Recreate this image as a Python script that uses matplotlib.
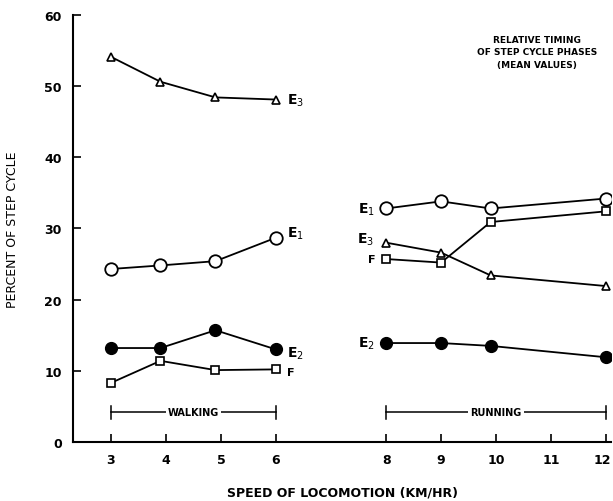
import numpy as np
import matplotlib.pyplot as plt
import matplotlib.transforms as mtransforms

# speeds (km/hr) for the two gaits
walk_speed = [3, 3.9, 4.9, 6]
run_speed = [8, 9, 9.9, 12]

# percent of step cycle, walking
walk_e1 = [24.3, 24.8, 25.4, 28.7]
walk_e2 = [13.2, 13.2, 15.7, 13.0]
walk_e3 = [54.1, 50.6, 48.4, 48.1]
walk_f = [8.3, 11.4, 10.1, 10.2]

# percent of step cycle, running
run_e1 = [32.8, 33.8, 32.8, 34.2]
run_e2 = [13.9, 13.9, 13.5, 11.9]
run_e3 = [28.0, 26.6, 23.4, 21.9]
run_f = [25.7, 25.2, 30.9, 32.4]

xticks = [3, 4, 5, 6, 8, 9, 10, 11, 12]
yticks = [0, 10, 20, 30, 40, 50, 60]

fig = plt.figure(figsize=(6.13, 5.02), dpi=100)
ax = fig.add_axes([0.119, 0.1175, 0.878, 0.851])

open_circle = dict(marker='o', ms=9, mfc='white', mec='black', mew=1.3)
dot = dict(marker='o', ms=8.5, mfc='black', mec='black')
square = dict(marker='s', ms=5.5, mfc='white', mec='black', mew=1.2)
tri = dict(marker='^', ms=6, mfc='white', mec='black', mew=1.2)
line = dict(color='black', lw=1.3)

for xs, e1, e2, e3, f in [(walk_speed, walk_e1, walk_e2, walk_e3, walk_f),
                          (run_speed, run_e1, run_e2, run_e3, run_f)]:
    ax.plot(xs, e3, **line, **tri)
    ax.plot(xs, f, **line, **square)
    ax.plot(xs, e1, **line, **open_circle)
    ax.plot(xs, e2, **line, **dot)

lab = dict(fontsize=10, fontweight='bold', va='center')
# walking labels on the right of the last point
ax.text(6.2, walk_e3[-1], r'E$_3$', **lab)
ax.text(6.2, walk_e1[-1] + 0.7, r'E$_1$', **lab)
ax.text(6.2, walk_e2[-1] - 0.4, r'E$_2$', **lab)
ax.text(6.2, walk_f[-1] - 0.4, 'F', fontsize=8, fontweight='bold', va='center')
# running labels on the left of the first point
ax.text(7.8, run_e1[0], r'E$_1$', ha='right', **lab)
ax.text(7.78, run_e3[0] + 0.6, r'E$_3$', ha='right', **lab)
ax.text(7.8, run_f[0], 'F', ha='right', fontsize=8, fontweight='bold', va='center')
ax.text(7.8, run_e2[0] + 0.1, r'E$_2$', ha='right', **lab)

# gait ranges
bar_y = 4.2
for x0, x1, name in [(3, 6, 'WALKING'), (8, 12, 'RUNNING')]:
    ax.plot([x0, x1], [bar_y, bar_y], color='black', lw=1.1)
    ax.plot([x0, x0], [bar_y - 0.9, bar_y + 0.9], color='black', lw=1.1)
    ax.plot([x1, x1], [bar_y - 0.9, bar_y + 0.9], color='black', lw=1.1)
    ax.text((x0 + x1) / 2, bar_y, name, ha='center', va='center', fontsize=7,
            fontweight='bold', bbox=dict(fc='white', ec='none', pad=1.5))

ax.text(10.75, 57.2, 'RELATIVE TIMING\nOF STEP CYCLE PHASES\n(MEAN VALUES)',
        ha='center', va='top', fontsize=6.5, fontweight='bold', linespacing=1.5)

ax.set_xlim(2.31, 12.09)
ax.set_ylim(0, 60)
ax.set_xticks(xticks)
ax.set_yticks(yticks)
ax.tick_params(direction='in', length=6, width=1.2, labelsize=9, pad=8)
for t in ax.get_xticklabels() + ax.get_yticklabels():
    t.set_fontweight('bold')
# nudge the last x label so it stays inside the figure
last = ax.get_xticklabels()[-1]
last.set_transform(last.get_transform() +
                   mtransforms.ScaledTranslation(-3 / 72, 0, fig.dpi_scale_trans))
ax.spines['top'].set_visible(False)
ax.spines['right'].set_visible(False)
ax.spines['left'].set_linewidth(1.5)
ax.spines['bottom'].set_linewidth(1.5)

ax.set_xlabel('SPEED OF LOCOMOTION (KM/HR)', fontsize=9, fontweight='bold', labelpad=14)
ax.set_ylabel('PERCENT OF STEP CYCLE', fontsize=9, labelpad=18)

fig.savefig('out.png', dpi=100)
